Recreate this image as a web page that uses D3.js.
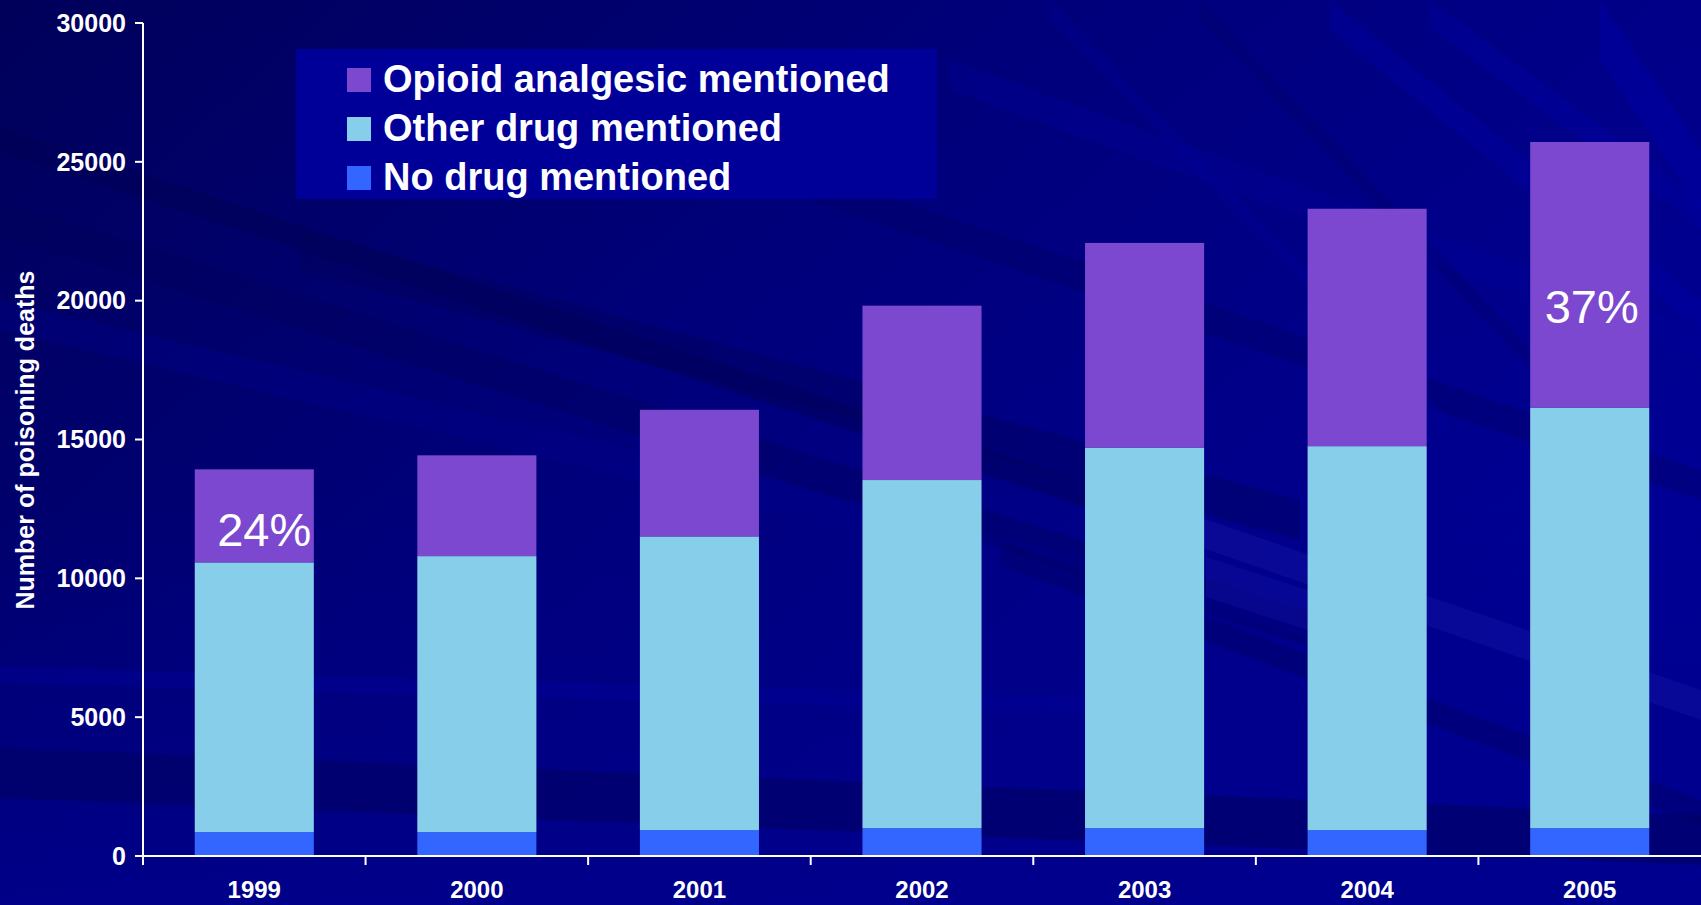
<!DOCTYPE html>
<html>
<head>
<meta charset="utf-8">
<script src="https://cdn.jsdelivr.net/npm/d3@7/dist/d3.min.js"></script>
<style>
  html, body { margin: 0; padding: 0; background: #000080; overflow: hidden; }
  svg { display: block; }
  text { font-family: Arial, "Liberation Sans", Helvetica, sans-serif; }
</style>
</head>
<body>
<svg id="chart" width="1701" height="905"></svg>
<script>
// ---- Data ----
const years = ["1999", "2000", "2001", "2002", "2003", "2004", "2005"];
const noDrug = [860, 860, 930, 1000, 1000, 930, 1000];
const otherDrug = [9715, 9940, 10580, 12540, 13710, 13830, 15150];
const opioid = [3350, 3630, 4560, 6280, 7370, 8550, 9565];
const seriesNames = ["No drug mentioned", "Other drug mentioned", "Opioid analgesic mentioned"];
const seriesColors = ["#3366FF", "#87CEEB", "#7B48CF"];
const yTicks = [0, 5000, 10000, 15000, 20000, 25000, 30000];
const yTitle = "Number of poisoning deaths";
const pctLabels = [{ year: "1999", text: "24%", at: 11150 }, { year: "2005", text: "37%", at: 19200 }];

// ---- Setup ----
const W = 1701, H = 905;
const svg = d3.select("#chart");

// Background
const defs = svg.append("defs");
const g0 = defs.append("linearGradient").attr("id", "bg").attr("x1", "0").attr("y1", "0").attr("x2", "1").attr("y2", "0.6");
g0.append("stop").attr("offset", "0").attr("stop-color", "#00005a");
g0.append("stop").attr("offset", "0.45").attr("stop-color", "#00007a");
g0.append("stop").attr("offset", "1").attr("stop-color", "#000096");
svg.append("rect").attr("width", W).attr("height", H).attr("fill", "url(#bg)");
const g1 = defs.append("linearGradient").attr("id", "bgb").attr("x1", "0").attr("y1", "0").attr("x2", "0").attr("y2", "1");
g1.append("stop").attr("offset", "0").attr("stop-color", "#000080").attr("stop-opacity", 0);
g1.append("stop").attr("offset", "1").attr("stop-color", "#00008c").attr("stop-opacity", 0.8);
svg.append("rect").attr("y", 500).attr("width", W).attr("height", H - 500).attr("fill", "url(#bgb)");

// decorative streaks: [x1, y1, x2, y2, thickness, color, opacity]
const streaks = [
  [0, 748, 1701, 815, 50, "#000060", 0.55],
  [0, 667, 1200, 700, 16, "#000098", 0.45],
  [0, 127, 1200, 520, 25, "#000050", 0.4],
  [0, 200, 1400, 640, 35, "#000058", 0.35],
  [0, 300, 1701, 700, 30, "#00008c", 0.35],
  [300, 230, 1300, 500, 40, "#00005a", 0.4],
  [600, 100, 1701, 470, 30, "#000062", 0.35],
  [950, 60, 1701, 330, 30, "#00009a", 0.35],
  [1150, 500, 1701, 690, 30, "#1414a4", 0.45],
  [1000, 540, 1701, 800, 25, "#00005c", 0.35],
  [1206, 557, 1400, 620, 40, "#1010a0", 0.45],
  [1330, 0, 1701, 300, 30, "#0000a4", 0.4],
  [1430, 0, 1701, 200, 28, "#0000a2", 0.4],
  [1600, 0, 1701, 150, 60, "#0000a6", 0.5],
  [1200, 0, 1560, 380, 20, "#00006a", 0.35],
  [1050, 0, 1450, 420, 18, "#00009c", 0.3]
];
svg.append("g").selectAll("path").data(streaks).join("path")
  .attr("d", s => `M${s[0]},${s[1]}L${s[2]},${s[3]}L${s[2]},${s[3] + s[4]}L${s[0]},${s[1] + s[4]}Z`)
  .attr("fill", s => s[5]).attr("opacity", s => s[6]);

// ---- Scales ----
const x = d3.scaleBand().domain(years).range([143, 1701]).paddingInner(0.465).paddingOuter(0.2325);
const y = d3.scaleLinear().domain([0, 30000]).range([856, 23]);

// ---- Stack ----
const rows = years.map((yr, i) => ({ year: yr, s0: noDrug[i], s1: otherDrug[i], s2: opioid[i] }));
const stack = d3.stack().keys(["s0", "s1", "s2"]);
const stacked = stack(rows);

svg.append("g").selectAll("g").data(stacked).join("g")
  .attr("fill", (d, i) => seriesColors[i])
  .selectAll("rect").data(d => d).join("rect")
  .attr("x", d => x(d.data.year))
  .attr("width", x.bandwidth())
  .attr("y", d => y(d[1]))
  .attr("height", d => y(d[0]) - y(d[1]));

// ---- Axes ----
const axG = svg.append("g").attr("stroke", "#fff").attr("stroke-width", 2);
axG.append("line").attr("x1", 143).attr("x2", 143).attr("y1", y(30000)).attr("y2", 865);
axG.append("line").attr("x1", 135).attr("x2", W).attr("y1", y(0)).attr("y2", y(0));
axG.selectAll("line.yt").data(yTicks).join("line").attr("class", "yt")
  .attr("x1", 135).attr("x2", 143).attr("y1", d => y(d)).attr("y2", d => y(d));
const step = x.step();
axG.selectAll("line.xt").data(years.slice(1)).join("line").attr("class", "xt")
  .attr("x1", d => x(d) - (step - x.bandwidth()) / 2)
  .attr("x2", d => x(d) - (step - x.bandwidth()) / 2)
  .attr("y1", y(0)).attr("y2", 865);

svg.append("g").selectAll("text").data(yTicks).join("text")
  .attr("x", 126).attr("y", d => y(d)).attr("dy", "0.35em")
  .attr("text-anchor", "end").attr("fill", "#fff")
  .attr("font-weight", "bold").attr("font-size", 25)
  .text(d => d);

svg.append("g").selectAll("text").data(years).join("text")
  .attr("x", d => x(d) + x.bandwidth() / 2).attr("y", 898)
  .attr("text-anchor", "middle").attr("fill", "#fff")
  .attr("font-weight", "bold").attr("font-size", 24)
  .text(d => d);

svg.append("text")
  .attr("transform", "translate(34,440) rotate(-90)")
  .attr("text-anchor", "middle").attr("fill", "#fff")
  .attr("font-weight", "bold").attr("font-size", 25)
  .text(yTitle);

// ---- Percentage labels ----
svg.append("g").selectAll("text").data(pctLabels).join("text")
  .attr("x", (d, i) => x(d.year) + x.bandwidth() / 2 + (i === 0 ? 10 : 2))
  .attr("y", d => y(d.at))
  .attr("text-anchor", "middle").attr("fill", "#fff")
  .attr("font-size", 47)
  .text(d => d.text);

// ---- Legend ----
const lg = svg.append("g");
lg.append("rect").attr("x", 296).attr("y", 49).attr("width", 641).attr("height", 150).attr("fill", "#000099");
const legendOrder = [2, 1, 0];
const li = lg.selectAll("g").data(legendOrder).join("g")
  .attr("transform", (d, i) => `translate(347,${92 + i * 49})`);
li.append("rect").attr("x", 0).attr("y", -24).attr("width", 24).attr("height", 24).attr("fill", d => seriesColors[d]);
li.append("text").attr("x", 36).attr("y", 0).attr("fill", "#fff")
  .attr("font-weight", "bold").attr("font-size", 38)
  .text(d => seriesNames[d]);
</script>
</body>
</html>
